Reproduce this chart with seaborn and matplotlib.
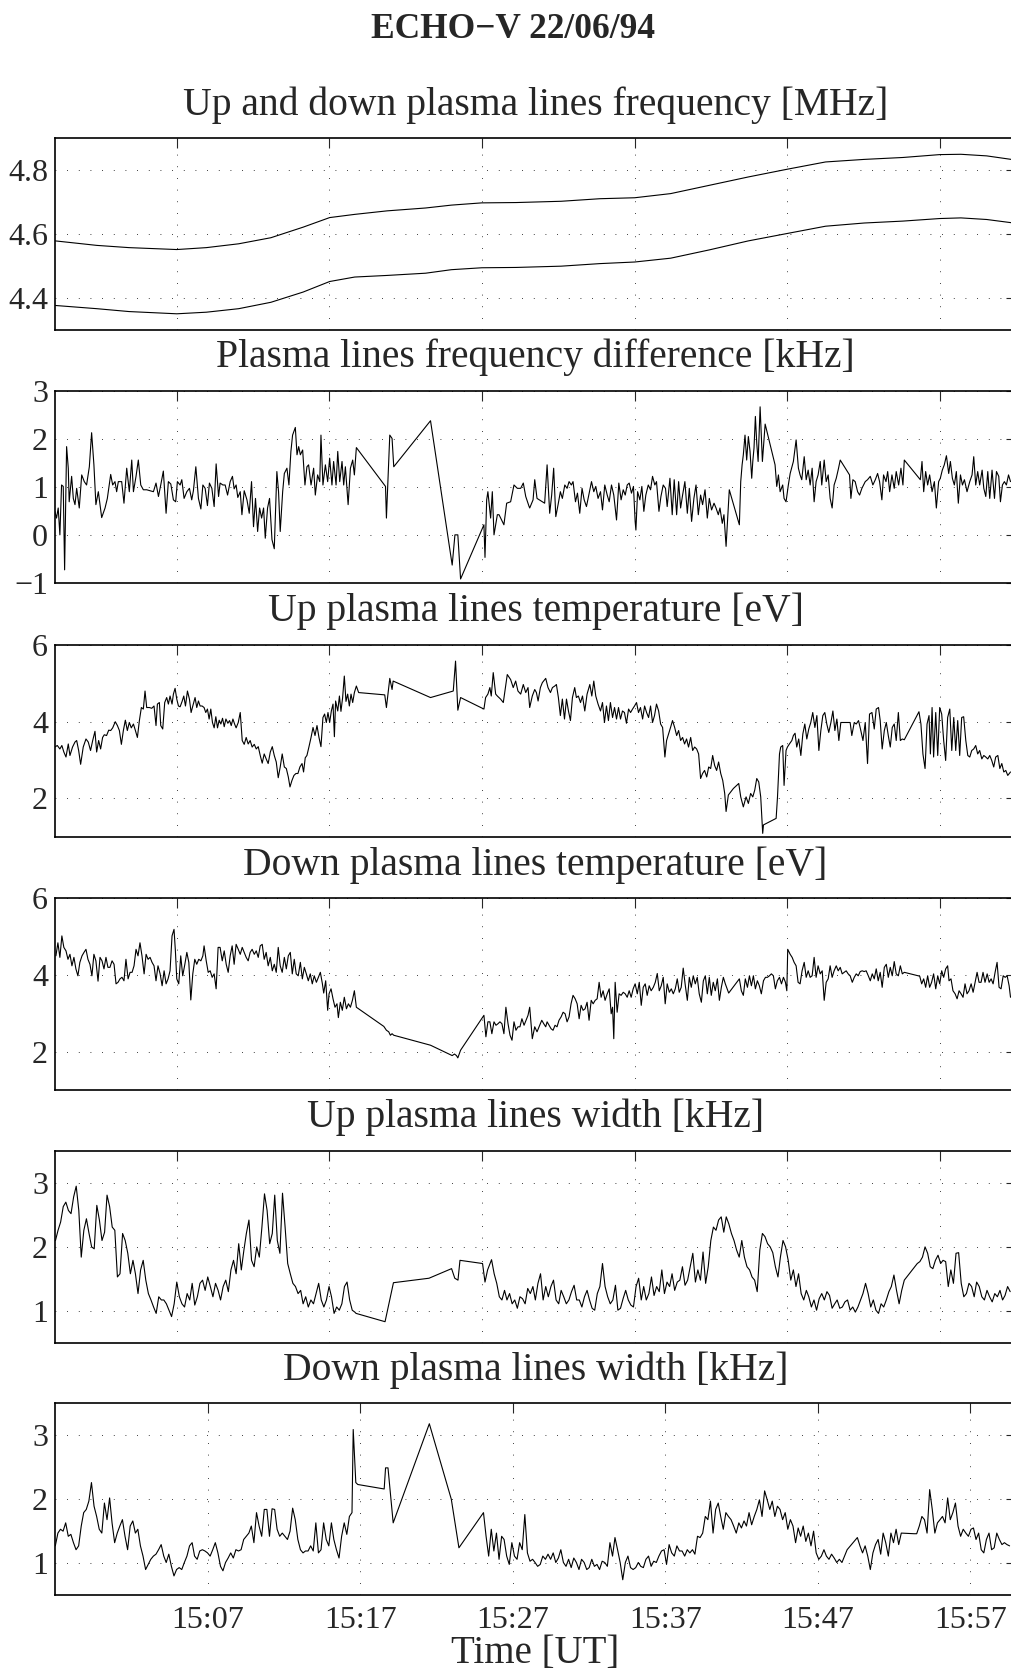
import matplotlib
matplotlib.use("Agg")
import matplotlib.pyplot as plt
import seaborn as sns

# ---------------- data (minutes after 15:00 UT) ----------------
# Panel 1: up and down plasma line frequency [MHz]
p1_t = [-0.95, 1.76, 3.87, 7.00, 8.94, 11.06, 13.17, 15.28, 17.02, 18.66,
        20.78, 23.31, 25.00, 26.99, 29.23, 32.19, 34.73, 37.01, 39.37, 41.91,
        44.45, 46.98, 49.52, 52.05, 54.59, 57.00, 58.39, 60.08, 61.69]
p1_up = [4.579, 4.565, 4.558, 4.552, 4.558, 4.570, 4.589, 4.622, 4.652, 4.662,
         4.673, 4.682, 4.691, 4.698, 4.699, 4.703, 4.711, 4.714, 4.727, 4.753,
         4.779, 4.803, 4.826, 4.834, 4.840, 4.849, 4.850, 4.845, 4.834]
p1_down = [4.377, 4.367, 4.358, 4.351, 4.356, 4.367, 4.387, 4.419, 4.452, 4.466,
           4.471, 4.478, 4.489, 4.495, 4.496, 4.500, 4.508, 4.513, 4.525, 4.551,
           4.579, 4.602, 4.625, 4.635, 4.641, 4.649, 4.651, 4.646, 4.636]

# Panel 2: plasma lines frequency difference [kHz]
p2a_t = [-0.99, -0.88, -0.77, -0.66, -0.55, -0.44, -0.35, -0.22, -0.11, -0.05,
         0.11, 0.22, 0.33, 0.44, 0.61, 0.77, 0.94, 1.09, 1.27, 1.42,
         1.57, 1.70, 1.86, 2.08, 2.30, 2.45, 2.67, 2.80, 2.95, 3.06,
         3.17, 3.39, 3.54, 3.72, 3.89, 4.05, 4.16, 4.33, 4.48, 4.64,
         4.81, 5.03, 5.25, 5.47, 5.64, 5.80, 5.95, 6.12, 6.30, 6.45,
         6.61, 6.78, 6.93, 7.04, 7.22, 7.33, 7.48, 7.66, 7.83, 7.98,
         8.09, 8.25, 8.42, 8.58, 8.71, 8.86, 9.01, 9.14, 9.30, 9.45,
         9.58, 9.74, 9.84, 10.02, 10.17, 10.33, 10.50, 10.65, 10.76, 10.89,
         11.00, 11.16, 11.27, 11.42, 11.60, 11.75, 11.90, 12.03, 12.16, 12.30,
         12.43, 12.56, 12.69, 12.80, 12.95, 13.08, 13.24, 13.39, 13.56, 13.67,
         13.78, 13.94, 14.05, 14.22, 14.35, 14.48, 14.59, 14.77, 14.88, 14.99,
         15.10, 15.25, 15.40, 15.53, 15.64, 15.80, 15.97, 16.08, 16.23, 16.37,
         16.45, 16.58, 16.74, 16.89, 17.02, 17.17, 17.28, 17.44, 17.55, 17.68,
         17.83, 17.94, 18.05, 18.23, 18.38, 18.53, 18.64, 18.77, 20.68, 20.74,
         20.96, 21.11, 21.22, 23.63, 25.05, 25.23, 25.42, 25.60, 27.13, 27.20,
         27.31, 27.39, 27.57, 27.68, 27.79, 28.01, 28.12, 28.44, 28.62, 28.88,
         29.10, 29.32, 29.54, 29.71, 29.87, 30.08]
p2a_v = [0.49, 0.35, 0.56, 0.0, 1.04, 1.01, -0.73, 1.84, 1.39, 0.69,
         1.22, 0.76, 0.63, 0.97, 0.56, 1.25, 1.11, 1.04, 1.42, 2.13,
         1.46, 0.63, 0.90, 0.36, 0.56, 0.76, 1.26, 1.04, 1.11, 0.90,
         1.11, 1.11, 0.66, 1.39, 0.90, 1.56, 0.90, 1.22, 1.56, 1.04,
         0.94, 0.94, 0.92, 0.90, 1.08, 0.80, 1.04, 1.33, 0.45, 1.11,
         1.06, 0.73, 0.69, 1.11, 1.04, 1.15, 0.76, 0.90, 0.97, 0.73,
         0.92, 1.42, 0.76, 0.54, 1.04, 0.97, 0.61, 1.08, 0.97, 0.59,
         1.48, 0.80, 1.08, 1.04, 1.04, 0.83, 1.11, 1.22, 0.96, 1.04,
         0.78, 0.90, 0.42, 0.92, 0.73, 0.45, 1.11, 0.17, 0.76, 0.07,
         0.56, 0.35, 0.56, -0.07, 0.56, 0.76, -0.10, -0.29, 1.32, 0.90,
         0.07, 0.90, 1.28, 1.39, 1.04, 1.74, 2.08, 2.24, 1.67, 1.84,
         1.67, 1.77, 1.04, 1.42, 1.46, 1.04, 1.39, 0.83, 1.25, 1.11,
         2.08, 1.04, 1.46, 1.11, 1.60, 1.04, 1.53, 1.04, 1.74, 1.11,
         1.53, 1.04, 1.42, 0.63, 1.39, 1.56, 1.25, 1.82, 1.01, 0.35,
         2.08, 2.01, 1.42, 2.38, -0.63, 0.0, 0.0, -0.92, 0.21, -0.47,
         0.73, 0.90, 0.35, 0.90, 0.0, 0.42, 0.42, 0.21, 0.66, 0.69,
         1.04, 0.97, 0.97, 1.08, 0.80, 0.60]
p2b_t = [30.13, 30.35, 30.46, 30.61, 31.11, 31.27, 31.44, 31.57, 31.70, 31.84,
         31.99, 32.14, 32.27, 32.43, 32.58, 32.71, 32.86, 32.97, 33.13, 33.26,
         33.41, 33.56, 33.70, 33.85, 34.00, 34.18, 34.33, 34.46, 34.61, 34.77,
         34.90, 35.05, 35.21, 35.34, 35.49, 35.64, 35.82, 35.97, 36.12, 36.26,
         36.39, 36.52, 36.65, 36.80, 36.93, 37.04, 37.09, 37.20, 37.35, 37.48,
         37.61, 37.74, 37.90, 38.05, 38.18, 38.33, 38.44, 38.60, 38.73, 38.88,
         39.03, 39.14, 39.32, 39.47, 39.60, 39.76, 39.89, 40.02, 40.15, 40.30,
         40.46, 40.59, 40.74, 40.89, 41.03, 41.18, 41.33, 41.46, 41.62, 41.77,
         41.90, 42.05, 42.21, 42.34, 42.49, 42.60, 42.75, 42.86, 43.00, 43.21,
         43.87, 43.96, 44.05, 44.13, 44.24, 44.35, 44.46, 44.57, 44.68, 44.75,
         44.83, 44.92, 45.01, 45.10, 45.23, 45.38, 45.56, 46.21, 46.32, 46.43,
         46.54, 46.71, 46.80, 46.93, 47.08, 47.20, 47.41, 47.59, 47.74, 47.85,
         47.96, 48.12, 48.25, 48.38, 48.51, 48.64, 48.77, 48.90, 49.03, 49.17,
         49.27, 49.43, 49.56, 49.69, 49.82, 49.95, 50.08, 50.22, 50.37, 50.48,
         51.09, 51.18, 51.31, 51.46, 51.62, 51.75, 51.90, 52.12, 52.27, 52.45,
         52.62, 52.78, 52.93, 53.06, 53.21, 53.32, 53.48, 53.59, 53.72, 53.87,
         54.02, 54.15, 54.31, 54.46, 54.59, 54.68, 55.73, 55.84, 55.95, 56.08,
         56.21, 56.34, 56.50, 56.65, 56.78, 56.93, 57.04, 57.17, 57.30, 57.44,
         57.59, 57.70, 57.83, 57.96, 58.09, 58.22, 58.36, 58.49, 58.62, 58.79,
         58.97, 59.12, 59.23, 59.36, 59.49, 59.62, 59.78, 59.89, 60.02, 60.15,
         60.28, 60.43, 60.59, 60.72, 60.87, 60.98, 61.11, 61.24, 61.37, 61.51,
         61.64]
p2b_v = [0.56, 0.73, 1.15, 0.76, 0.66, 1.46, 0.45, 0.83, 1.39, 0.38,
         0.63, 0.90, 0.76, 1.04, 0.97, 1.11, 1.04, 1.11, 0.69, 0.87,
         0.45, 0.97, 0.73, 0.59, 0.83, 1.11, 0.90, 1.01, 0.76, 0.90,
         0.52, 1.04, 0.83, 0.69, 1.04, 0.83, 0.31, 1.08, 0.73, 0.94,
         0.83, 1.04, 1.08, 0.87, 1.01, 0.28, 0.10, 0.90, 0.73, 1.01,
         0.49, 0.83, 1.04, 0.94, 1.22, 1.04, 1.11, 0.49, 0.80, 1.04,
         0.97, 0.59, 1.18, 0.42, 1.15, 0.42, 1.11, 0.56, 0.83, 1.11,
         0.45, 0.97, 0.28, 0.76, 1.04, 0.42, 0.83, 0.63, 0.94, 0.35,
         0.76, 0.52, 0.66, 0.56, 0.42, 0.56, 0.24, 0.42, -0.24, 0.94,
         0.21, 1.11, 1.46, 1.67, 2.08, 1.56, 2.05, 1.74, 1.18, 1.53,
         1.81, 2.47, 1.91, 1.53, 2.67, 1.53, 2.31, 1.46, 1.01, 1.25,
         0.90, 1.04, 0.76, 0.69, 1.04, 1.28, 1.53, 1.98, 1.39, 1.25,
         1.15, 1.63, 1.15, 1.35, 1.04, 1.39, 0.69, 1.11, 1.25, 1.53,
         1.04, 1.56, 1.11, 1.25, 0.76, 0.56, 1.04, 1.18, 1.39, 1.56,
         1.25, 0.76, 1.15, 1.11, 0.90, 0.83, 0.97, 1.11, 1.15, 1.22,
         1.04, 1.15, 1.28, 1.11, 0.73, 1.25, 1.11, 1.32, 0.90, 1.25,
         0.97, 1.32, 1.04, 1.39, 1.04, 1.56, 1.15, 1.53, 0.90, 1.32,
         1.04, 1.25, 0.90, 1.11, 0.56, 1.11, 1.18, 1.35, 1.46, 1.65,
         1.28, 1.53, 1.18, 1.04, 1.32, 0.66, 1.25, 1.04, 1.15, 0.90,
         1.11, 1.25, 1.63, 1.04, 1.32, 1.04, 1.35, 0.97, 0.80, 1.32,
         0.76, 1.35, 0.76, 1.32, 1.22, 0.69, 1.04, 1.11, 1.04, 1.25,
         1.11]

# Panel 3: up plasma lines temperature [eV]
p3a_t = [-0.99, -0.83, -0.66, -0.53, -0.40, -0.26, -0.11, 0.00, 0.17, 0.33,
         0.44, 0.57, 0.70, 0.87, 1.05, 1.20, 1.35, 1.49, 1.64, 1.75,
         1.88, 2.01, 2.14, 2.25, 2.40, 2.54, 2.67, 2.80, 2.97, 3.11,
         3.24, 3.37, 3.50, 3.63, 3.76, 3.89, 4.02, 4.16, 4.29, 4.42,
         4.55, 4.68, 4.81, 4.92, 5.03, 5.21, 5.36, 5.51, 5.64, 5.73,
         5.86, 5.95, 6.08, 6.21, 6.34, 6.45, 6.56, 6.69, 6.78, 6.89,
         7.00, 7.11, 7.22, 7.35, 7.46, 7.57, 7.70, 7.83, 7.94, 8.05,
         8.20, 8.31, 8.42, 8.53, 8.66, 8.79, 8.90, 9.01, 9.12, 9.23,
         9.34, 9.45, 9.56, 9.67, 9.78, 9.89, 10.00, 10.11, 10.22, 10.35,
         10.46, 10.57, 10.68, 10.79, 10.89, 11.03, 11.16, 11.29, 11.42, 11.55,
         11.68, 11.81, 11.94, 12.08, 12.21, 12.34, 12.47, 12.60, 12.73, 12.86,
         12.99, 13.13, 13.26, 13.39, 13.52, 13.65, 13.78, 13.91, 14.05, 14.18,
         14.31, 14.42, 14.55, 14.68, 14.81, 14.94, 15.07, 15.21, 15.31, 15.42,
         15.53, 15.66, 15.80, 15.93, 16.06, 16.19, 16.32, 16.45, 16.58, 16.69,
         16.80, 16.91, 17.02, 17.13, 17.24, 17.33, 17.41, 17.55, 17.66, 17.76,
         17.87, 17.98, 18.09, 18.20, 18.31, 18.42, 18.53, 18.64, 18.77, 18.92,
         20.63, 20.74, 20.96, 21.11, 21.18, 23.63, 25.12, 25.27, 25.42, 25.60,
         27.13, 27.24, 27.39, 27.52, 27.61, 27.74, 27.90, 28.01, 28.22, 28.40,
         28.66, 28.88, 29.05, 29.21, 29.36, 29.54, 29.71, 29.87, 30.02]
p3a_v = [3.34, 3.38, 3.29, 3.38, 3.21, 3.08, 3.42, 3.12, 3.34, 3.47,
         3.51, 3.25, 2.89, 3.34, 3.55, 3.47, 3.25, 3.51, 3.75, 3.21,
         3.51, 3.29, 3.59, 3.66, 3.64, 3.78, 3.77, 3.84, 4.00, 3.90,
         3.77, 3.41, 3.77, 4.04, 3.77, 3.98, 3.84, 3.94, 3.77, 3.59,
         4.03, 4.37, 4.33, 4.80, 4.37, 4.37, 4.35, 4.41, 3.90, 4.46,
         4.50, 3.90, 3.81, 4.50, 4.63, 4.46, 4.67, 4.46, 4.72, 4.87,
         4.59, 4.41, 4.39, 4.53, 4.67, 4.41, 4.80, 4.59, 4.24, 4.41,
         4.63, 4.37, 4.54, 4.41, 4.41, 4.37, 4.24, 4.33, 4.07, 4.33,
         3.98, 3.84, 4.13, 3.84, 4.04, 3.94, 4.09, 3.87, 4.07, 3.96,
         4.03, 3.90, 4.07, 3.94, 3.84, 3.98, 4.24, 3.51, 3.41, 3.59,
         3.42, 3.51, 3.34, 3.41, 3.29, 3.35, 3.12, 2.92, 3.16, 3.03,
         2.91, 3.21, 3.35, 3.12, 2.95, 2.54, 2.82, 3.16, 2.82, 2.78,
         2.56, 2.30, 2.47, 2.60, 2.65, 2.65, 2.82, 2.91, 2.69, 3.06,
         3.12, 3.34, 3.59, 3.85, 3.64, 3.90, 3.59, 3.35, 4.11, 4.20,
         3.98, 4.24, 3.98, 4.28, 4.46, 3.61, 4.54, 4.28, 4.67, 4.27,
         4.63, 5.19, 4.53, 4.72, 4.41, 4.72, 4.50, 4.76, 4.93, 4.76,
         4.70, 4.37, 5.13, 4.84, 5.06, 4.63, 4.80, 5.58, 4.30, 4.63,
         4.33, 4.63, 4.72, 4.89, 4.67, 5.28, 4.72, 4.67, 4.59, 4.50,
         5.23, 5.10, 4.89, 5.06, 4.80, 4.72, 4.97, 4.76, 4.89]
p3b_t = [30.13, 30.30, 30.46, 30.57, 30.68, 30.83, 30.96, 31.18, 31.33, 31.49,
         31.62, 31.77, 31.88, 32.01, 32.14, 32.27, 32.41, 32.54, 32.67, 32.80,
         32.93, 33.08, 33.19, 33.32, 33.46, 33.59, 33.74, 33.89, 34.07, 34.20,
         34.33, 34.46, 34.61, 34.77, 34.90, 35.03, 35.16, 35.29, 35.42, 35.56,
         35.69, 35.82, 35.95, 36.08, 36.21, 36.34, 36.47, 36.61, 36.74, 36.87,
         37.00, 37.13, 37.26, 37.39, 37.53, 37.66, 37.79, 37.92, 38.05, 38.18,
         38.31, 38.44, 38.58, 38.71, 38.84, 38.99, 39.10, 39.23, 39.36, 39.49,
         39.63, 39.76, 39.89, 40.02, 40.15, 40.28, 40.41, 40.54, 40.68, 40.81,
         40.94, 41.07, 41.20, 41.33, 41.46, 41.59, 41.73, 41.86, 41.99, 42.12,
         42.25, 42.38, 42.51, 42.65, 42.78, 42.91, 43.00, 43.15, 43.48, 43.83,
         43.96, 44.13, 44.31, 44.46, 44.61, 44.75, 44.88, 45.01, 45.14, 45.27,
         45.40, 45.45, 46.28, 46.37, 46.50, 46.58, 46.71, 46.80, 46.93, 47.02,
         47.15, 47.31, 47.41, 47.52, 47.63, 47.76, 47.90, 48.03, 48.16, 48.29,
         48.42, 48.55, 48.68, 48.82, 48.95, 49.08, 49.21, 49.34, 49.47, 49.60,
         49.73, 49.87, 50.00, 50.13, 50.26, 50.39, 50.52, 51.13, 51.24, 51.40,
         51.53, 51.68, 51.83, 51.97, 52.12, 52.27, 52.40, 52.56, 52.71, 52.84,
         52.99, 53.10, 53.23, 53.37, 53.50, 53.63, 53.76, 53.89, 54.02, 54.15,
         54.29, 54.42, 54.55, 54.68, 55.64, 55.77, 55.90, 56.04, 56.17, 56.30,
         56.39, 56.50, 56.60, 56.74, 56.87, 57.00, 57.13, 57.26, 57.39, 57.52,
         57.66, 57.79, 57.92, 58.05, 58.18, 58.31, 58.44, 58.57, 58.71, 58.84,
         58.97, 59.10, 59.23, 59.36, 59.49, 59.62, 59.76, 59.89, 60.02, 60.15,
         60.28, 60.41, 60.54, 60.67, 60.81, 60.94, 61.07, 61.20, 61.33, 61.46,
         61.64]
p3b_v = [4.37, 4.67, 4.84, 4.76, 4.54, 4.89, 5.02, 5.13, 4.89, 4.76,
         4.89, 4.93, 4.97, 4.63, 4.16, 4.59, 4.07, 4.59, 4.28, 4.03,
         4.63, 4.89, 4.63, 4.67, 4.50, 4.67, 4.28, 4.72, 4.97, 4.67,
         5.06, 4.67, 4.46, 4.28, 4.50, 3.98, 4.41, 4.03, 4.50, 4.11,
         4.37, 4.07, 4.37, 4.07, 4.28, 4.24, 3.96, 4.33, 4.24, 4.33,
         4.41, 4.50, 4.24, 4.37, 4.07, 4.41, 4.24, 4.11, 4.41, 3.98,
         4.16, 4.46, 4.28, 3.94, 3.85, 3.08, 3.51, 3.68, 3.85, 4.03,
         3.85, 3.64, 3.77, 3.51, 3.59, 3.42, 3.55, 3.34, 3.59, 3.25,
         3.34, 3.29, 3.16, 2.52, 2.65, 2.73, 2.56, 2.82, 2.78, 3.12,
         2.86, 2.73, 2.95, 2.65, 2.47, 2.13, 1.66, 2.09, 2.26, 2.39,
         2.04, 1.78, 2.04, 1.87, 2.13, 2.04, 2.22, 2.52, 2.43, 2.04,
         1.09, 1.31, 1.48, 2.04, 3.16, 3.34, 3.38, 2.34, 3.25, 3.34,
         3.42, 3.51, 3.64, 3.70, 3.34, 3.55, 3.12, 3.68, 3.94, 3.55,
         3.81, 3.98, 4.24, 3.85, 4.16, 3.25, 3.77, 4.16, 4.24, 3.94,
         3.72, 3.98, 4.28, 3.77, 4.07, 3.51, 3.98, 3.98, 3.64, 3.98,
         3.94, 4.03, 3.77, 3.51, 3.98, 2.91, 4.20, 4.24, 3.81, 4.33,
         4.37, 4.03, 3.29, 3.77, 3.98, 3.64, 3.34, 3.85, 3.94, 3.51,
         4.24, 3.51, 3.55, 3.53, 4.26, 3.94, 3.16, 2.78, 3.94, 4.16,
         3.16, 4.37, 3.08, 4.24, 3.12, 4.37, 4.20, 3.51, 2.99, 4.11,
         4.33, 3.25, 4.11, 3.25, 4.03, 3.12, 4.11, 4.13, 3.51, 3.12,
         3.08, 3.25, 3.29, 3.38, 3.16, 3.25, 3.03, 3.12, 3.08, 3.03,
         3.12, 2.99, 2.82, 3.08, 3.12, 2.78, 2.91, 2.69, 2.73, 2.60,
         2.69]

# Panel 4: down plasma lines temperature [eV]
p4a_t = [-0.92, -0.79, -0.66, -0.53, -0.40, -0.26, -0.13, 0.00, 0.13, 0.26,
         0.39, 0.52, 0.65, 0.79, 0.92, 1.05, 1.18, 1.31, 1.44, 1.57,
         1.70, 1.84, 1.97, 2.10, 2.23, 2.36, 2.49, 2.62, 2.76, 2.89,
         3.02, 3.15, 3.28, 3.41, 3.54, 3.67, 3.81, 3.94, 4.07, 4.20,
         4.33, 4.46, 4.59, 4.72, 4.86, 4.99, 5.12, 5.25, 5.38, 5.51,
         5.64, 5.77, 5.91, 6.04, 6.17, 6.30, 6.43, 6.56, 6.69, 6.82,
         6.91, 7.00, 7.13, 7.26, 7.39, 7.53, 7.66, 7.79, 7.92, 8.05,
         8.18, 8.31, 8.44, 8.58, 8.71, 8.79, 8.93, 9.06, 9.19, 9.32,
         9.45, 9.58, 9.71, 9.84, 9.98, 10.11, 10.24, 10.37, 10.50, 10.63,
         10.76, 10.89, 11.03, 11.16, 11.29, 11.42, 11.55, 11.68, 11.81, 11.94,
         12.08, 12.21, 12.34, 12.47, 12.60, 12.73, 12.86, 12.99, 13.13, 13.26,
         13.39, 13.52, 13.65, 13.78, 13.91, 14.05, 14.18, 14.31, 14.44, 14.57,
         14.70, 14.83, 14.96, 15.10, 15.23, 15.36, 15.49, 15.62, 15.75, 15.88,
         16.01, 16.15, 16.28, 16.41, 16.54, 16.63, 16.76, 16.89, 16.98, 17.11,
         17.24, 17.37, 17.50, 17.59, 17.72, 17.85, 17.98, 18.12, 18.25, 18.38,
         18.51, 18.64, 18.77, 20.57, 20.74, 20.89, 21.00, 21.11, 21.22, 23.63,
         25.05, 25.20, 25.33, 25.42, 25.60, 27.13, 27.26, 27.39, 27.52, 27.65,
         27.79, 27.92, 28.05, 28.18, 28.31, 28.44, 28.57, 28.71, 28.84, 28.97,
         29.10, 29.23, 29.36, 29.49, 29.62, 29.76, 29.89, 30.02]
p4a_v = [4.50, 4.84, 4.46, 5.02, 4.72, 4.63, 4.41, 4.54, 4.24, 4.46,
         4.16, 3.98, 4.33, 4.50, 4.59, 4.67, 4.41, 4.28, 3.98, 4.54,
         4.37, 3.84, 4.46, 4.37, 4.16, 4.46, 4.20, 4.20, 4.37, 4.28,
         3.77, 3.81, 3.90, 3.94, 3.85, 4.41, 3.90, 4.07, 4.07, 4.24,
         4.67, 4.50, 4.84, 4.50, 4.03, 4.54, 4.41, 4.46, 4.33, 4.24,
         3.85, 4.24, 4.03, 3.72, 4.11, 3.77, 3.90, 4.11, 5.02, 5.19,
         4.63, 3.90, 3.77, 4.50, 3.98, 4.28, 4.59, 4.33, 3.35, 4.03,
         4.41, 4.28, 4.41, 4.37, 4.50, 4.76, 4.37, 4.07, 4.11, 3.94,
         4.03, 3.64, 4.72, 4.72, 4.37, 4.63, 4.28, 4.07, 4.50, 4.76,
         4.28, 4.80, 4.67, 4.54, 4.72, 4.59, 4.46, 4.37, 4.59, 4.67,
         4.54, 4.63, 4.46, 4.76, 4.80, 4.41, 4.59, 4.24, 4.46, 4.11,
         4.28, 4.07, 4.72, 4.24, 4.07, 4.46, 4.16, 4.50, 4.59, 4.03,
         4.41, 4.03, 3.98, 4.33, 3.90, 4.20, 4.03, 3.85, 4.03, 3.77,
         3.98, 3.81, 3.94, 4.07, 3.78, 3.53, 3.85, 3.08, 3.51, 3.64,
         3.38, 3.16, 3.25, 2.89, 3.29, 3.08, 3.42, 3.12, 3.25, 3.16,
         3.34, 3.59, 3.16, 2.66, 2.56, 2.52, 2.43, 2.47, 2.43, 2.17,
         1.90, 1.94, 1.90, 1.84, 2.04, 2.95, 2.39, 2.78, 2.78, 2.47,
         2.78, 2.69, 2.73, 2.78, 2.73, 2.47, 3.16, 2.73, 2.43, 2.30,
         2.78, 2.56, 2.65, 2.65, 2.86, 2.69, 2.82, 2.95]
p4b_t = [30.13, 30.30, 30.46, 30.61, 30.79, 30.92, 31.05, 31.18,
         31.27, 31.40, 31.53, 31.66, 31.79, 31.92, 32.05, 32.19, 32.32, 32.45,
         32.58, 32.71, 32.84, 32.97, 33.11, 33.24, 33.37, 33.50, 33.63, 33.76,
         33.89, 34.02, 34.16, 34.29, 34.42, 34.55, 34.68, 34.81, 34.94, 35.07,
         35.21, 35.34, 35.47,
         35.56, 35.64,
         35.73, 35.86, 35.99, 36.12, 36.26, 36.39, 36.52, 36.65, 36.78, 36.91,
         37.04, 37.18, 37.31, 37.44, 37.57, 37.70, 37.83, 37.96, 38.09, 38.23,
         38.36, 38.49, 38.62, 38.75, 38.88, 39.01, 39.14, 39.28, 39.41, 39.54,
         39.67, 39.80, 39.93, 40.06, 40.19, 40.33, 40.46, 40.59, 40.72, 40.85,
         40.98, 41.11, 41.24, 41.38, 41.51, 41.64, 41.77, 41.90, 42.03, 42.16,
         42.29, 42.43, 42.56, 42.69, 42.82, 42.95,
         43.17,
         43.87, 44.00, 44.13, 44.26, 44.40, 44.53, 44.66, 44.79, 44.92, 45.05,
         45.18, 45.31, 45.45, 45.58, 45.71, 45.84, 45.97, 46.10, 46.23, 46.36,
         46.50, 46.63, 46.76, 46.89,
         46.98, 47.04,
         47.20, 47.33, 47.46, 47.59, 47.72, 47.85, 47.98, 48.12, 48.25, 48.38,
         48.51, 48.64, 48.77, 48.90, 49.03, 49.17, 49.30, 49.43, 49.56, 49.69,
         49.82, 49.95, 50.08, 50.22, 50.35, 50.48, 50.61, 50.74, 50.87, 51.00,
         51.13, 51.27, 51.40, 51.53, 51.66, 51.79, 51.92, 52.05, 52.18, 52.32,
         52.45, 52.58, 52.71, 52.84, 52.97, 53.10, 53.23, 53.37, 53.50, 53.63,
         53.76, 53.89, 54.02, 54.15, 54.29, 54.42, 54.55, 54.68,
         55.69, 55.82, 55.95, 56.08, 56.21, 56.34, 56.47, 56.60, 56.74, 56.87,
         57.00, 57.13, 57.26, 57.39, 57.52,
         57.61, 57.74, 57.87, 58.01, 58.14, 58.27, 58.40, 58.53, 58.66, 58.79,
         58.92, 59.06, 59.19, 59.32, 59.45, 59.58, 59.71, 59.84, 59.97, 60.11,
         60.24, 60.37, 60.50, 60.63, 60.76, 60.89, 61.02, 61.16, 61.29, 61.42,
         61.55, 61.64]
p4b_v = [3.16, 2.34, 2.65, 2.52, 2.69, 2.82, 2.73, 2.65,
         2.78, 2.69, 2.60, 2.56, 2.69, 2.65, 2.82, 2.91, 3.03, 2.99,
         2.78, 2.91, 3.25, 3.47, 3.38, 3.25, 2.86, 3.21, 3.08, 3.12,
         3.29, 2.82, 3.34, 3.25, 3.34, 3.38, 3.81, 3.42, 3.59, 3.34,
         3.51, 3.64, 2.99,
         3.16, 2.34,
         3.81, 3.03, 3.51, 3.47, 3.55, 3.51, 3.42, 3.59, 3.42, 3.64,
         3.77, 3.51, 3.81, 3.21, 3.68, 3.77, 3.47, 3.72, 3.59, 3.68,
         3.81, 4.04, 3.59, 3.72, 3.94, 3.25, 3.77, 3.55, 3.64, 3.51,
         3.64, 3.90, 3.55, 3.68, 4.18, 3.72, 3.34, 3.94, 3.68, 3.98,
         3.77, 3.94, 3.51, 3.29, 3.85, 3.98, 3.51, 3.94, 3.47, 3.81,
         3.59, 3.90, 3.34, 3.68, 3.94, 3.77,
         3.53,
         3.90, 3.59, 3.47, 3.90, 3.68, 3.98, 3.72, 3.98, 3.64, 3.85,
         3.72, 3.51, 3.85, 3.94, 3.94, 3.98, 4.03, 3.98, 3.64, 3.85,
         3.94, 3.77, 3.94, 3.81,
         3.59, 4.67,
         4.54, 4.46, 4.33, 4.24, 3.81, 3.77, 4.11, 4.33, 3.94, 4.11,
         3.94, 3.98, 4.46, 3.94, 4.24, 4.03, 4.11, 3.34, 3.81, 3.90,
         4.24, 3.94, 4.11, 4.24, 4.11, 4.20, 4.03, 4.07, 4.11, 4.03,
         3.98, 3.81, 3.94, 4.03, 3.98, 4.09, 4.11, 4.09, 4.11, 3.98,
         3.85, 4.03, 3.90, 4.16, 3.85, 4.07, 3.68, 4.20, 4.28, 3.94,
         4.20, 3.98, 4.35, 4.03, 3.98, 4.24, 4.03, 4.07,
         3.97, 3.77, 3.90, 3.68, 3.98, 3.68, 3.81, 4.03, 3.64, 3.98,
         3.77, 4.11, 3.94, 4.16, 4.24,
         3.85, 3.90, 3.59, 3.51, 3.38, 3.59, 3.51, 3.42, 3.77, 3.51,
         3.59, 3.77, 3.55, 3.81, 4.07, 3.81, 3.81, 4.07, 3.81, 4.03,
         3.81, 3.90, 3.77, 4.07, 4.33, 3.68, 3.64, 3.98, 3.94, 3.98,
         3.72, 3.42]

# Panel 5: up plasma lines width [kHz]
p5_t = [-0.95, -0.78, -0.61, -0.44, -0.27, -0.10, 0.07, 0.24, 0.41, 0.58,
        0.74, 0.91, 1.08, 1.25, 1.42, 1.59, 1.76, 1.93, 2.10, 2.27,
        2.43, 2.60, 2.77, 2.94, 3.11, 3.28, 3.45, 3.62, 3.79, 3.96,
        4.13, 4.29, 4.46, 4.63, 4.80, 4.97, 5.14, 5.31, 5.48, 5.65,
        5.82, 5.99, 6.15, 6.32, 6.49, 6.66, 6.83, 7.00, 7.17, 7.34,
        7.51, 7.68, 7.85, 8.01, 8.18, 8.35, 8.52, 8.69, 8.86, 9.03,
        9.20, 9.37, 9.54, 9.71, 9.87, 10.04, 10.21, 10.38, 10.55, 10.72,
        10.89, 11.06, 11.23, 11.40, 11.56, 11.73, 11.90, 12.07, 12.24, 12.41,
        12.58, 12.75, 12.92, 13.09, 13.26, 13.42, 13.59, 13.76, 13.93, 14.10,
        14.27, 14.44, 14.61, 14.78, 14.95, 15.12, 15.28, 15.45, 15.62, 15.79,
        15.96, 16.13, 16.30, 16.47, 16.64, 16.81, 16.98, 17.14, 17.31, 17.48,
        17.65, 17.82, 17.99, 18.16, 18.33, 18.50, 18.67, 18.75,
        20.65, 21.20, 23.53, 25.01, 25.22, 25.43, 25.56, 27.04,
        27.20, 27.37,
        27.63, 27.80, 27.97, 28.14, 28.31, 28.48, 28.64, 28.81, 28.98, 29.15,
        29.32, 29.49, 29.66, 29.83, 30.00, 30.17, 30.34, 30.50, 30.67, 30.84,
        31.01, 31.18, 31.35, 31.52, 31.69, 31.86, 32.03, 32.19, 32.36, 32.53,
        32.70, 32.87, 33.04, 33.21, 33.38, 33.55, 33.72, 33.89, 34.05, 34.22,
        34.39, 34.56, 34.73, 34.90, 35.07, 35.24, 35.41, 35.58, 35.75, 35.91,
        36.08, 36.25, 36.42, 36.59, 36.76, 36.93, 37.10, 37.27, 37.44, 37.60,
        37.77, 37.94, 38.11, 38.28, 38.45, 38.62, 38.79, 38.96, 39.13, 39.30,
        39.46, 39.63, 39.80, 39.97, 40.14, 40.31, 40.48, 40.65, 40.82, 40.99,
        41.15, 41.32, 41.49, 41.66, 41.83, 42.00, 42.17, 42.34, 42.51, 42.68,
        42.85, 43.01, 43.18, 43.35, 43.52, 43.69, 43.86, 44.03, 44.20, 44.37,
        44.54, 44.70, 44.87, 45.04, 45.21, 45.38, 45.55, 45.72, 45.89, 46.06,
        46.23, 46.40, 46.56, 46.73, 46.90, 47.07, 47.24, 47.41, 47.58, 47.75,
        47.92, 48.09, 48.26, 48.42, 48.59, 48.76, 48.93, 49.10, 49.27, 49.44,
        49.61, 49.78, 49.95, 50.12, 50.28, 50.45, 50.62, 50.79, 50.96, 51.13,
        51.30, 51.47, 51.64, 51.81, 51.97, 52.14, 52.31, 52.48, 52.65, 52.82,
        52.99, 53.16, 53.33, 53.50, 53.67, 53.83, 54.00, 54.17, 54.34, 54.51,
        54.68,
        55.53,
        55.70, 55.87, 56.04, 56.21, 56.38, 56.55, 56.72, 56.89, 57.06, 57.22,
        57.39, 57.56, 57.73, 57.90, 58.07, 58.24, 58.41, 58.58, 58.75, 58.92,
        59.09, 59.26, 59.42, 59.59, 59.76, 59.93, 60.10, 60.27, 60.44, 60.61,
        60.78, 60.95, 61.12, 61.28, 61.45, 61.62]
p5_v = [2.10, 2.26, 2.39, 2.63, 2.70, 2.57, 2.52, 2.78, 2.95, 2.57,
        1.84, 2.26, 2.44, 2.21, 2.00, 1.97, 2.65, 2.42, 2.10, 2.23,
        2.81, 2.63, 2.31, 2.26, 1.53, 1.58, 2.21, 2.10, 1.90, 1.58,
        1.79, 1.58, 1.27, 1.64, 1.79, 1.48, 1.27, 1.17, 1.06, 0.96,
        1.22, 1.17, 1.17, 1.11, 1.01, 0.91, 1.11, 1.45, 1.22, 1.11,
        1.06, 1.27, 1.17, 1.43, 1.09, 1.22, 1.43, 1.48, 1.32, 1.53,
        1.38, 1.22, 1.43, 1.32, 1.17, 1.38, 1.48, 1.30, 1.64, 1.79,
        1.58, 2.05, 1.64, 1.95, 2.21, 2.42, 1.79, 1.69, 2.00, 1.84,
        2.31, 2.83, 2.57, 2.05, 2.21, 2.81, 2.10, 1.90, 2.84, 2.31,
        1.74, 1.58, 1.43, 1.38, 1.27, 1.32, 1.11, 1.22, 1.06, 1.17,
        1.11, 1.27, 1.43, 1.17, 1.06, 1.17, 1.38, 1.22, 0.96, 1.06,
        1.01, 1.11, 1.38, 1.45, 1.17, 1.01, 0.98, 0.96,
        0.83, 1.44, 1.51, 1.66, 1.51, 1.48, 1.79, 1.74,
        1.45, 1.64,
        1.80, 1.58, 1.43, 1.22, 1.17, 1.32, 1.17, 1.27, 1.11, 1.17,
        1.04, 1.22, 1.19, 1.11, 1.35, 1.27, 1.38, 1.17, 1.43, 1.58,
        1.17, 1.38, 1.22, 1.38, 1.48, 1.17, 1.11, 1.32, 1.22, 1.11,
        1.17, 1.30, 1.40, 1.17, 1.17, 1.06, 1.22, 1.32, 1.17, 1.04,
        1.01, 1.27, 1.38, 1.74, 1.38, 1.22, 1.11, 1.17, 1.40, 1.01,
        1.04, 1.19, 1.32, 1.17, 1.09, 1.06, 1.38, 1.51, 1.17, 1.38,
        1.17, 1.27, 1.53, 1.24, 1.38, 1.30, 1.64, 1.27, 1.45, 1.38,
        1.58, 1.32, 1.45, 1.48, 1.69, 1.40, 1.48, 1.69, 1.90, 1.45,
        1.64, 1.48, 1.92, 1.43, 1.69, 2.10, 2.31, 2.26, 2.42, 2.47,
        2.23, 2.47, 2.36, 2.21, 2.10, 1.95, 1.84, 2.10, 1.84, 1.69,
        1.64, 1.53, 1.48, 1.30, 1.95, 2.21, 2.16, 2.05, 2.00, 1.91,
        1.69, 1.53, 1.84, 2.10, 2.00, 1.79, 1.48, 1.64, 1.38, 1.58,
        1.27, 1.17, 1.32, 1.22, 1.06, 1.17, 1.01, 1.19, 1.27, 1.17,
        1.30, 1.24, 1.04, 1.11, 1.17, 1.04, 1.06, 1.14, 1.17, 1.01,
        1.06, 0.98, 1.06, 1.17, 1.27, 1.43, 1.27, 1.06, 1.17, 1.01,
        0.96, 1.11, 1.06, 1.17, 1.30, 1.38, 1.56, 1.32, 1.11, 1.32,
        1.48,
        1.74,
        1.77, 1.84, 2.00, 1.90, 1.69, 1.66, 1.79, 1.87, 1.74, 1.79,
        1.77, 1.38, 1.64, 1.43, 1.90, 1.91, 1.43, 1.22, 1.27, 1.43,
        1.38, 1.22, 1.45, 1.38, 1.22, 1.17, 1.32, 1.22, 1.14, 1.27,
        1.22, 1.32, 1.17, 1.24, 1.38, 1.30]

# Panel 6: down plasma lines width [kHz] (its own time axis)
p6_t = [-2.98, -2.81, -2.64, -2.47, -2.30, -2.13, -1.96, -1.79, -1.62, -1.45,
        -1.28, -1.12, -0.95, -0.78, -0.61, -0.44, -0.27, -0.10, 0.07, 0.24,
        0.41, 0.58, 0.74, 0.91, 1.08, 1.25, 1.42, 1.59, 1.76, 1.93,
        2.10, 2.27, 2.43, 2.60, 2.77, 2.94, 3.11, 3.28, 3.45, 3.62,
        3.79, 3.96, 4.13, 4.29, 4.46, 4.63, 4.80, 4.97, 5.14, 5.31,
        5.48, 5.65, 5.82, 5.99, 6.15, 6.32, 6.49, 6.66, 6.83, 7.00,
        7.17, 7.34, 7.51, 7.68, 7.85, 8.01, 8.18, 8.35, 8.52, 8.69,
        8.86, 9.03, 9.20, 9.37, 9.54, 9.71, 9.87, 10.04, 10.21, 10.38,
        10.55, 10.72, 10.89, 11.06, 11.23, 11.40, 11.56, 11.73, 11.90, 12.07,
        12.24, 12.41, 12.58, 12.75, 12.92, 13.09, 13.26, 13.42, 13.59, 13.76,
        13.93, 14.10, 14.27, 14.44, 14.61, 14.78, 14.95, 15.12, 15.28, 15.45,
        15.62, 15.79, 15.96, 16.13, 16.30, 16.47,
        16.55, 16.72, 16.85, 18.58, 18.67, 18.83, 19.17, 21.54, 22.98, 23.48, 25.09,
        25.26, 25.43, 25.60, 25.77, 25.94, 26.11, 26.28, 26.44, 26.61, 26.78,
        26.95, 27.12, 27.29, 27.46, 27.63, 27.80, 27.97, 28.14, 28.31, 28.47,
        28.64, 28.81, 28.98, 29.15, 29.32, 29.49, 29.66, 29.83, 30.00, 30.16,
        30.33, 30.50, 30.67, 30.84, 31.01, 31.18, 31.35, 31.52, 31.69, 31.86,
        32.02, 32.19, 32.36, 32.53, 32.70, 32.87, 33.04, 33.21, 33.38, 33.55,
        33.71, 33.88, 34.05, 34.22, 34.39, 34.56, 34.73, 34.90, 35.07, 35.24,
        35.40, 35.57, 35.74, 35.91, 36.08, 36.25, 36.42, 36.59, 36.76, 36.93,
        37.09, 37.26, 37.43, 37.60, 37.77, 37.94, 38.11, 38.28, 38.45, 38.62,
        38.79, 38.95, 39.12, 39.29, 39.46, 39.63, 39.80, 39.97, 40.14, 40.31,
        40.48, 40.64, 40.81, 40.98, 41.15, 41.32, 41.49, 41.66, 41.83, 42.00,
        42.17, 42.33, 42.50, 42.67, 42.84, 43.01, 43.18, 43.35, 43.52, 43.69,
        43.86, 44.02, 44.19, 44.36, 44.53, 44.70, 44.87, 45.04, 45.21, 45.38,
        45.55, 45.72, 45.88, 46.05, 46.22, 46.39, 46.56, 46.73, 46.90, 47.07,
        47.24, 47.41, 47.57, 47.74, 47.91, 48.08, 48.25, 48.42, 48.59, 48.76,
        48.93,
        49.60,
        49.77, 49.94, 50.11, 50.28, 50.45, 50.62, 50.79, 50.96, 51.13, 51.29,
        51.46, 51.63, 51.80, 51.97, 52.14, 52.31, 52.48,
        53.32,
        53.49, 53.66, 53.83, 54.00, 54.17, 54.34, 54.51, 54.68, 54.85, 55.02,
        55.18, 55.35, 55.52, 55.69, 55.86, 56.03, 56.20, 56.37, 56.54, 56.71,
        56.88, 57.05, 57.21, 57.38, 57.55, 57.72, 57.89, 58.06, 58.23, 58.40,
        58.57, 58.74, 58.91, 59.08, 59.24, 59.41, 59.58]
p6_v = [1.27, 1.47, 1.53, 1.50, 1.63, 1.42, 1.45, 1.32, 1.21, 1.27,
        1.58, 1.79, 1.84, 1.97, 2.26, 1.89, 1.73, 1.53, 1.47, 1.94,
        1.68, 2.02, 1.63, 1.32, 1.47, 1.58, 1.68, 1.42, 1.21, 1.58,
        1.66, 1.47, 1.53, 1.27, 1.11, 0.90, 0.98, 1.06, 1.11, 1.14,
        1.21, 1.29, 1.11, 1.01, 1.14, 0.95, 0.80, 0.90, 0.93, 0.90,
        1.01, 1.11, 1.27, 1.32, 1.11, 1.06, 1.19, 1.21, 1.19, 1.16,
        1.11, 1.21, 1.32, 1.16, 0.95, 0.88, 1.01, 1.08, 1.16, 1.08,
        1.21, 1.19, 1.21, 1.37, 1.42, 1.47, 1.58, 1.32, 1.79, 1.58,
        1.42, 1.84, 1.84, 1.42, 1.85, 1.84, 1.53, 1.42, 1.47, 1.42,
        1.37, 1.50, 1.86, 1.68, 1.37, 1.21, 1.16, 1.19, 1.19, 1.27,
        1.19, 1.63, 1.16, 1.21, 1.63, 1.37, 1.27, 1.63, 1.37, 1.21,
        1.08, 1.42, 1.63, 1.45, 1.73, 1.79,
        3.09, 2.26, 2.23, 2.16, 2.49, 2.49, 1.63, 3.18, 2.00, 1.24, 1.79,
        1.42, 1.11, 1.53, 1.19, 1.47, 1.06, 1.42, 1.37, 1.11, 0.98,
        1.32, 1.11, 1.06, 1.32, 1.21, 1.76, 1.16, 1.03, 1.06, 1.01,
        0.95, 0.98, 1.11, 1.06, 1.14, 1.06, 1.16, 1.01, 1.08, 1.21,
        1.01, 0.95, 1.06, 0.93, 1.08, 1.01, 0.90, 1.06, 1.01, 0.90,
        0.93, 1.06, 0.95, 0.98, 0.90, 1.03, 1.01, 0.95, 1.32, 1.11,
        1.40, 1.21, 1.01, 0.74, 1.01, 1.11, 0.93, 0.90, 0.93, 1.01,
        0.95, 0.93, 1.06, 1.11, 0.95, 1.03, 1.01, 1.11, 1.19, 1.21,
        0.98, 1.29, 1.16, 1.11, 1.27, 1.19, 1.19, 1.11, 1.21, 1.16,
        1.21, 1.14, 1.42, 1.40, 1.47, 1.73, 1.68, 1.97, 1.47, 1.84,
        1.94, 1.73, 1.53, 1.79, 1.73, 1.68, 1.58, 1.47, 1.63, 1.55,
        1.66, 1.58, 1.79, 1.60, 1.73, 1.84, 1.99, 1.73, 2.13, 1.99,
        1.84, 1.97, 1.73, 1.89, 1.84, 1.68, 1.79, 1.53, 1.68, 1.58,
        1.32, 1.55, 1.42, 1.58, 1.34, 1.47, 1.27, 1.50, 1.16, 1.06,
        1.11, 1.21, 1.11, 1.06, 1.14, 1.08, 1.01, 1.06, 1.01, 1.11,
        1.21,
        1.40,
        1.27, 1.16, 1.27, 1.11, 0.90, 1.16, 1.29, 1.37, 1.14, 1.47,
        1.32, 1.11, 1.47, 1.32, 1.53, 1.29, 1.47,
        1.46,
        1.46, 1.58, 1.73, 1.68, 1.47, 2.15, 1.84, 1.47, 1.63, 1.68,
        1.73, 1.63, 2.02, 1.68, 1.79, 1.94, 1.58, 1.42, 1.53, 1.47,
        1.42, 1.53, 1.55, 1.37, 1.47, 1.21, 1.16, 1.37, 1.47, 1.21,
        1.24, 1.47, 1.37, 1.29, 1.32, 1.29, 1.27]

titles = ["Up and down plasma lines frequency [MHz]",
          "Plasma lines frequency difference [kHz]",
          "Up plasma lines temperature [eV]",
          "Down plasma lines temperature [eV]",
          "Up plasma lines width [kHz]",
          "Down plasma lines width [kHz]"]
ylims = [(4.3, 4.9), (-1, 3), (1, 6), (1, 6), (0.5, 3.5), (0.5, 3.5)]
yticks = [[4.4, 4.6, 4.8], [-1, 0, 1, 2, 3], [2, 4, 6], [2, 4, 6], [1, 2, 3], [1, 2, 3]]
xtick_pos = [7, 17, 27, 37, 47, 57]
xtick_labels = ["15:07", "15:17", "15:27", "15:37", "15:47", "15:57"]
suptitle = "ECHO\u2212V 22/06/94"
xlabel = "Time [UT]"

# ---------------- drawing ----------------
sns.set_style("white")
plt.rcParams["font.family"] = ["Liberation Serif", "DejaVu Serif"]
plt.rcParams["axes.unicode_minus"] = True

W, H = 1011, 1673
fig = plt.figure(figsize=(W / 100, H / 100), dpi=100)

left_px, right_px = 55, 1016
tops_px = [138.3, 391.0, 645.0, 898.3, 1151.0, 1403.3]
h_px = 191.8

series = [
    [(p1_t, p1_up), (p1_t, p1_down)],
    [(p2a_t + p2b_t, p2a_v + p2b_v)],
    [(p3a_t + p3b_t, p3a_v + p3b_v)],
    [(p4a_t + p4b_t, p4a_v + p4b_v)],
    [(p5_t, p5_v)],
    [(p6_t, p6_v)],
]

for i in range(6):
    ax = fig.add_axes([left_px / W, 1 - (tops_px[i] + h_px) / H,
                       (right_px - left_px) / W, h_px / H])
    for (t, v) in series[i]:
        sns.lineplot(x=t, y=v, ax=ax, color="black", linewidth=0.8,
                     estimator=None, sort=False, legend=False)
    if i < 5:
        ax.set_xlim(-0.98, 62.0)
    else:
        ax.set_xlim(-3.0, 60.0)
    ax.set_ylim(*ylims[i])
    ax.set_yticks(yticks[i])
    ax.set_xticks(xtick_pos)
    if i < 5:
        ax.set_xticklabels([])
        ax.set_xlabel("")
    else:
        ax.set_xticklabels(xtick_labels)
        ax.set_xlabel(xlabel, fontsize=28, labelpad=0)
    ax.set_ylabel("")
    ax.grid(True, color="black", linestyle=(0, (1, 13)), linewidth=0.6)
    ax.tick_params(direction="in", top=True, right=True, length=7, width=0.8,
                   labelsize=23, pad=5)
    ax.tick_params(axis="x", pad=8)
    for s in ax.spines.values():
        s.set_linewidth(1.2)
        s.set_color("black")
    ax.set_title(titles[i], fontsize=28.5, pad=17)

fig.text(513 / W, 1 - 38.5 / H, suptitle, ha="center", va="baseline",
         fontsize=25.5, fontweight="bold")

fig.savefig("out.png", dpi=100)
